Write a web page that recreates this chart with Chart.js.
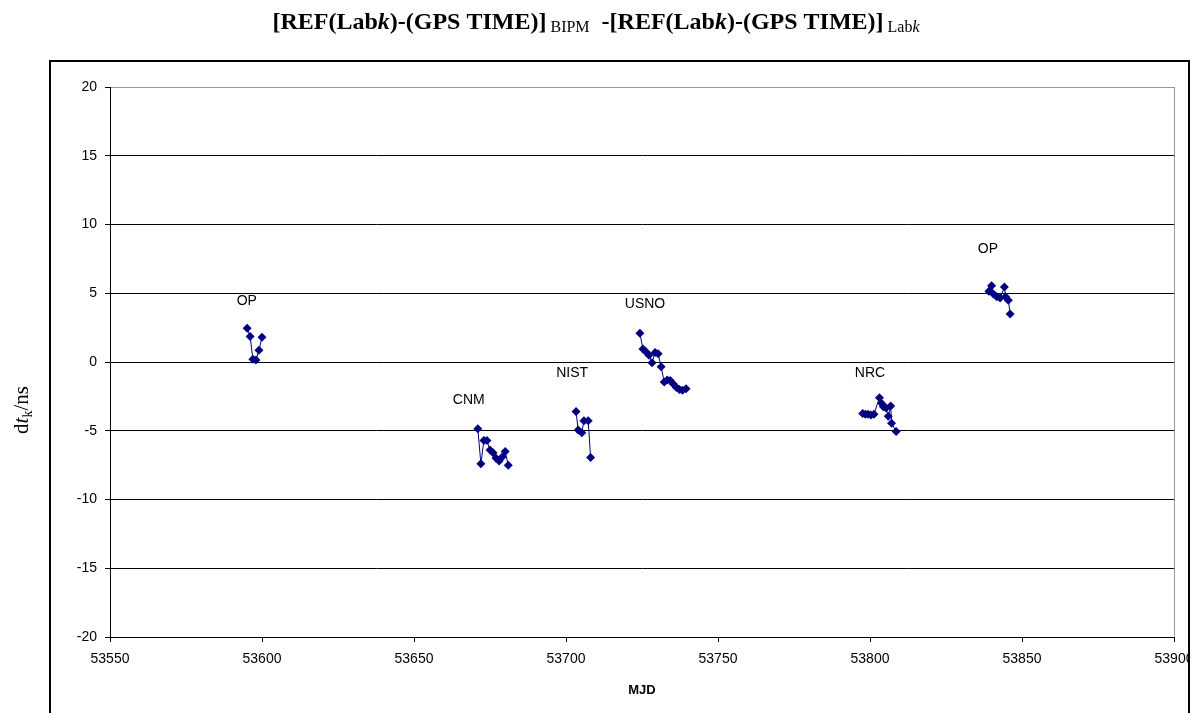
<!DOCTYPE html>
<html>
<head>
<meta charset="utf-8">
<script src="https://cdn.jsdelivr.net/npm/chart.js@4"></script>
<style>
  body { margin: 0; background: #fff; }
  canvas { display: block; }
</style>
</head>
<body>
<canvas id="myChart" width="1193" height="713"></canvas>
<script>
// data (MJD, dt_k in ns)
const opMjd = [53595.1, 53596.1, 53597.0, 53598.0, 53599.0, 53600.0];
const opVal = [2.45, 1.85, 0.2, 0.15, 0.85, 1.8];

const cnmMjd = [53671, 53672, 53673, 53674, 53675, 53676, 53677, 53678, 53679, 53680, 53681];
const cnmVal = [-4.85, -7.4, -5.7, -5.7, -6.4, -6.6, -7.0, -7.2, -6.9, -6.5, -7.5];

const nistMjd = [53703.3, 53704.0, 53705.2, 53705.9, 53707.3, 53708.1];
const nistVal = [-3.6, -4.95, -5.15, -4.27, -4.27, -6.95];

const usnoMjd = [53724.3, 53725.3, 53726.3, 53727.3, 53728.3, 53729.3, 53730.3, 53731.3,
                 53732.3, 53733.3, 53734.3, 53735.3, 53736.3, 53737.3, 53738.3, 53739.5];
const usnoVal = [2.1, 0.95, 0.75, 0.5, -0.05, 0.7, 0.6, -0.35,
                 -1.45, -1.3, -1.35, -1.6, -1.85, -2.0, -2.05, -1.95];

const nrcMjd = [53797.6, 53798.5, 53799.4, 53800.3, 53801.3, 53803.1, 53803.8,
                53804.4, 53805.3, 53806.0, 53806.8, 53807.1, 53808.6];
const nrcVal = [-3.75, -3.8, -3.8, -3.85, -3.8, -2.6, -3.0,
                -3.25, -3.35, -3.95, -3.2, -4.45, -5.05];

const op2Mjd = [53839.1, 53840.0, 53840.6, 53841.7, 53842.8, 53844.2, 53844.6, 53845.5, 53846.1];
const op2Val = [5.15, 5.55, 4.95, 4.75, 4.65, 5.45, 4.75, 4.5, 3.5];

// cluster labels
const labNames = ["OP", "CNM", "NIST", "USNO", "NRC", "OP"];
const labX = [53595, 53668, 53702, 53726, 53800, 53838.8];
const labY = [4.45, -2.75, -0.8, 4.2, -0.8, 8.2];

const xMin = 53550, xMax = 53900, xStep = 50;
const yMin = -20, yMax = 20, yStep = 5;

const NAVY = "#000080";

function series(xs, ys) {
  return {
    data: xs.map((x, i) => ({ x: x, y: ys[i] })),
    showLine: true,
    borderColor: NAVY,
    backgroundColor: NAVY,
    borderWidth: 1,
    pointStyle: "rectRot",
    pointRadius: 4.5,
    pointBorderWidth: 0,
  };
}

const decorations = {
  id: "decorations",
  afterDraw(chart) {
    const c = chart.ctx;
    const xs = chart.scales.x, ys = chart.scales.y;

    // lab labels
    c.save();
    c.fillStyle = "#000";
    c.font = "14px 'Liberation Sans', Arial, sans-serif";
    c.textAlign = "center";
    c.textBaseline = "middle";
    labNames.forEach((n, i) => {
      c.fillText(n, xs.getPixelForValue(labX[i]), ys.getPixelForValue(labY[i]));
    });

    // x axis title
    c.font = "bold 13px 'Liberation Sans', Arial, sans-serif";
    c.fillText("MJD", (chart.chartArea.left + chart.chartArea.right) / 2, 690);

    // title with italic k and subscripts
    const big = "24px 'Liberation Serif', 'Times New Roman', serif";
    const small = "16px 'Liberation Serif', 'Times New Roman', serif";
    const parts = [
      ["[REF(Lab", "bold " + big, 0],
      ["k", "italic bold " + big, 0],
      [")-(GPS TIME)]", "bold " + big, 0],
      [" BIPM", small, 3],
      ["  -[REF(Lab", "bold " + big, 0],
      ["k", "italic bold " + big, 0],
      [")-(GPS TIME)]", "bold " + big, 0],
      [" Lab", small, 3],
      ["k", "italic " + small, 3],
    ];
    c.textAlign = "left";
    c.textBaseline = "alphabetic";
    let total = 0;
    parts.forEach(p => { c.font = p[1]; total += c.measureText(p[0]).width; });
    let x = 596 - total / 2;
    parts.forEach(p => {
      c.font = p[1];
      c.fillText(p[0], x, 29 + p[2]);
      x += c.measureText(p[0]).width;
    });

    // y axis title, rotated
    c.translate(28, 410);
    c.rotate(-Math.PI / 2);
    const yl = [
      ["d", "21px 'Liberation Serif', 'Times New Roman', serif", 0],
      ["t", "italic 21px 'Liberation Serif', 'Times New Roman', serif", 0],
      ["k", "14px 'Liberation Serif', 'Times New Roman', serif", 4],
      ["/ns", "21px 'Liberation Serif', 'Times New Roman', serif", 0],
    ];
    total = 0;
    yl.forEach(p => { c.font = p[1]; total += c.measureText(p[0]).width; });
    x = -total / 2;
    yl.forEach(p => {
      c.font = p[1];
      c.fillText(p[0], x, p[2]);
      x += c.measureText(p[0]).width;
    });
    c.restore();

    // outer frame, cut on the right
    c.save();
    c.fillStyle = "#fff";
    c.fillRect(1189, 0, 10, 713);
    c.strokeStyle = "#000";
    c.lineWidth = 2;
    c.beginPath();
    c.moveTo(50, 713);
    c.lineTo(50, 61);
    c.lineTo(1189, 61);
    c.lineTo(1189, 713);
    c.stroke();
    c.restore();
  }
};

const config = {
  type: "scatter",
  data: {
    datasets: [
      series(opMjd, opVal),
      series(cnmMjd, cnmVal),
      series(nistMjd, nistVal),
      series(usnoMjd, usnoVal),
      series(nrcMjd, nrcVal),
      series(op2Mjd, op2Val),
    ],
  },
  options: {
    responsive: false,
    animation: false,
    layout: { padding: { left: 50, top: 87, right: 19, bottom: 0 } },
    plugins: {
      legend: { display: false },
      title: { display: false },
      tooltip: { enabled: false },
    },
    scales: {
      x: {
        type: "linear",
        min: xMin,
        max: xMax,
        afterFit: s => {
          s.height = 76;
          s.paddingLeft = 0;
          s.paddingRight = 0;
        },
        ticks: {
          stepSize: xStep,
          color: "#000",
          padding: 9,
          maxRotation: 0,
          autoSkip: false,
          font: { family: "'Liberation Sans', Arial, sans-serif", size: 14 },
          callback: v => String(v),
        },
        grid: {
          color: c => (c.tick && c.tick.value === xMax ? "#999" : "rgba(0,0,0,0)"),
          tickColor: "#000",
          tickLength: 5,
        },
        border: { color: "#000", width: 1 },
      },
      y: {
        min: yMin,
        max: yMax,
        afterFit: s => {
          s.width = 60;
          s.paddingTop = 0;
          s.paddingBottom = 0;
        },
        ticks: {
          stepSize: yStep,
          color: "#000",
          padding: 8,
          font: { family: "'Liberation Sans', Arial, sans-serif", size: 14 },
          callback: v => String(v),
        },
        grid: {
          color: c => (c.tick && c.tick.value === yMax ? "#999" : "#000"),
          tickColor: "#000",
          tickLength: 5,
        },
        border: { color: "#000", width: 1 },
      },
    },
  },
  plugins: [decorations],
};

const ctx = document.getElementById("myChart").getContext("2d");
const myChart = new Chart(ctx, config);
</script>
</body>
</html>
